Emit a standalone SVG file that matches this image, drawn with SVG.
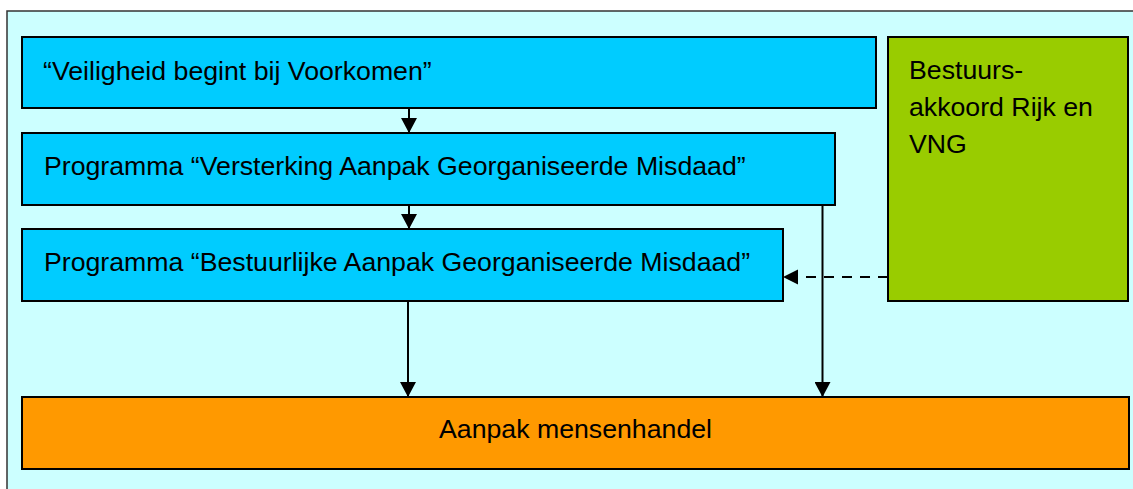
<svg xmlns="http://www.w3.org/2000/svg" width="1133" height="489" viewBox="0 0 1133 489">
<style>
.box{stroke:#000;stroke-width:2}
.t{font-family:"Liberation Sans",Arial,sans-serif;font-size:26.7px;fill:#000}
.c{stroke:#000;stroke-width:2;fill:none}
</style>
<defs>
<marker id="ah" markerUnits="userSpaceOnUse" markerWidth="16" markerHeight="16" refX="15" refY="8" orient="auto">
<path d="M0,0 L15,8 L0,16 Z" fill="#000"/>
</marker>
</defs>
<rect x="0" y="0" width="1133" height="489" fill="#fff"/>
<rect x="7" y="11" width="1140" height="500" fill="#CCFFFF" stroke="#333" stroke-width="1.5"/>
<g id="n1"><rect class="box" x="22" y="37" width="854" height="71" fill="#00CCFF"/><text class="t" x="43" y="80">“Veiligheid begint bij Voorkomen”</text></g>
<g id="n2"><rect class="box" x="22" y="133" width="813" height="72" fill="#00CCFF"/><text class="t" x="44" y="175">Programma “Versterking Aanpak Georganiseerde Misdaad”</text></g>
<g id="n3"><rect class="box" x="22" y="229" width="761" height="72" fill="#00CCFF"/><text class="t" x="44" y="271">Programma “Bestuurlijke Aanpak Georganiseerde Misdaad”</text></g>
<g id="n4"><rect class="box" x="888" y="37" width="240" height="264" fill="#99CC00"/><text class="t" x="909" y="79">Bestuurs-</text><text class="t" x="909" y="116">akkoord Rijk en</text><text class="t" x="909" y="153">VNG</text></g>
<g id="n5"><rect class="box" x="22" y="397" width="1107" height="72" fill="#FF9900"/><text class="t" x="575.5" y="438" text-anchor="middle">Aanpak mensenhandel</text></g>
<g id="connectors">
<line class="c" x1="409" y1="108" x2="409" y2="133" marker-end="url(#ah)"/>
<line class="c" x1="409" y1="205" x2="409" y2="229" marker-end="url(#ah)"/>
<line class="c" x1="408" y1="301" x2="408" y2="397" marker-end="url(#ah)"/>
<line class="c" x1="822.5" y1="205" x2="822.5" y2="397" marker-end="url(#ah)"/>
<line class="c" x1="888" y1="277" x2="800" y2="277" stroke-dasharray="10 8"/>
<path d="M783,277 L798,269.5 L798,284.5 Z" fill="#000"/>
</g>
</svg>
